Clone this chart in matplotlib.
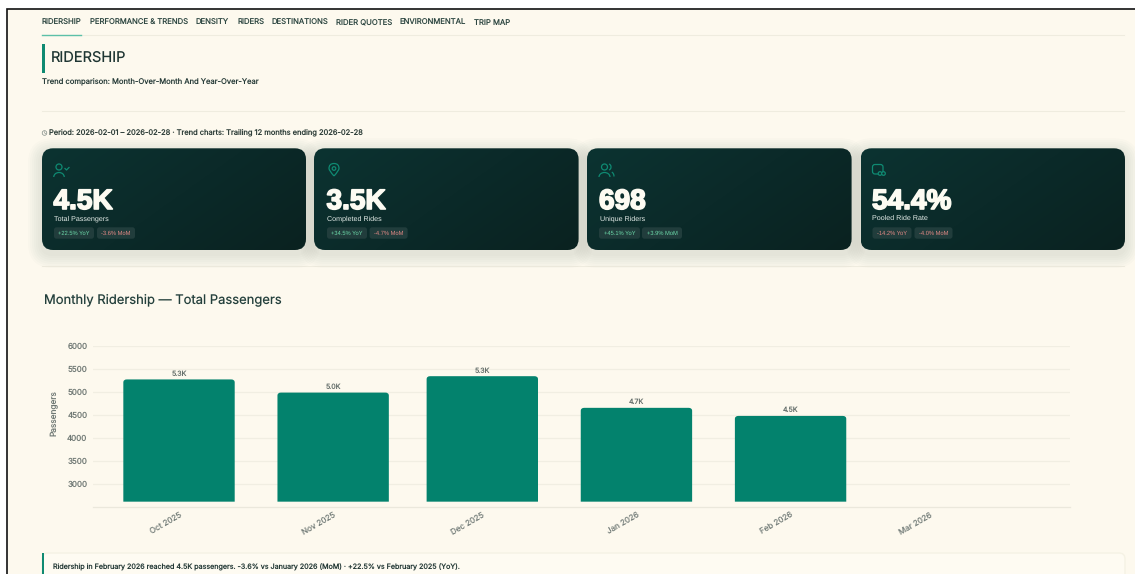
import datetime as dt
import numpy as np
import matplotlib
matplotlib.use("Agg")
import matplotlib.pyplot as plt
import matplotlib.dates as mdates
import matplotlib.patheffects as pe
from matplotlib.patches import FancyBboxPatch, Rectangle, Circle, PathPatch, Arc
from matplotlib.path import Path
from matplotlib.colors import LinearSegmentedColormap

W, H = 1135, 574

nav_items = ["RIDERSHIP", "PERFORMANCE & TRENDS", "DENSITY", "RIDERS", "DESTINATIONS",
             "RIDER QUOTES", "ENVIRONMENTAL", "TRIP MAP"]
nav_x = [42, 89.5, 196, 237, 272, 336, 400, 474]

card_values = ["4.5K", "3.5K", "698", "54.4%"]
card_labels = ["Total Passengers", "Completed Rides", "Unique Riders", "Pooled Ride Rate"]
card_yoy = ["+22.5% YoY", "+34.5% YoY", "+45.1% YoY", "-14.2% YoY"]
card_mom = ["-3.6% MoM", "-4.7% MoM", "+3.9% MoM", "-4.0% MoM"]

bar_months = [dt.date(2025, 10, 1), dt.date(2025, 11, 1), dt.date(2025, 12, 1),
              dt.date(2026, 1, 1), dt.date(2026, 2, 1)]
passengers = [5270, 4985, 5340, 4655, 4480]
tick_months = bar_months + [dt.date(2026, 3, 1)]
tick_labels = ["Oct 2025", "Nov 2025", "Dec 2025", "Jan 2026", "Feb 2026", "Mar 2026"]
y_ticks = [3000, 3500, 4000, 4500, 5000, 5500, 6000]

BG = "#fdf9ee"
TEAL = "#03826d"
ACCENT = "#0f8a72"
INK = "#1f3633"
RULE = "#efecdf"
GREEN = "#6ddcab"
RED = "#e58a86"

plt.rcParams["font.family"] = ["Inter", "DejaVu Sans"]
plt.rcParams["text.hinting"] = "none"


def px(v):
    # pixel size to points at this figure's dpi
    return v * 72 / 100


def draw_card(page, x0, y0, x1, y1, cmap):
    # soft drop shadow from stacked translucent boxes
    for grow in np.arange(14, 0, -2):
        page.add_patch(FancyBboxPatch((x0 - grow, y0 - grow + 4), x1 - x0 + 2 * grow, y1 - y0 + 2 * grow,
                                      boxstyle=f"round,pad=0,rounding_size={11 + grow}",
                                      fc="#30402f", ec="none", alpha=0.014, zorder=2))
    box = FancyBboxPatch((x0, y0), x1 - x0, y1 - y0, boxstyle="round,pad=0,rounding_size=11",
                         fc="none", ec="none", zorder=3)
    page.add_patch(box)
    xx, yy = np.meshgrid(np.linspace(0, 1, 120), np.linspace(0, 1, 50))
    img = page.imshow(xx * 0.65 + yy * 0.35, extent=(x0, x1, y1, y0), cmap=cmap, vmin=0, vmax=1,
                      aspect="auto", zorder=3, interpolation="bilinear")
    img.set_clip_path(box)


def draw_icon(page, kind, x, y):
    # line icons, x and y are the icon's centre
    style = dict(fc="none", ec=ACCENT, lw=0.9, zorder=5)
    if kind == 0:
        page.add_patch(Circle((x - 1.5, y - 2.5), 3, **style))
        page.add_patch(Arc((x - 1.5, y + 7.5), 10.5, 9, theta1=180, theta2=360, **style))
        page.plot([x + 4.5, x + 6, x + 8.5], [y - 1, y + 0.5, y - 2], color=ACCENT, lw=0.9, zorder=5)
    elif kind == 1:
        verts = [(x, y + 6.5), (x - 5, y + 1), (x - 5, y - 1), (x - 5, y - 6), (x, y - 6),
                 (x + 5, y - 6), (x + 5, y - 1), (x + 5, y + 1), (x, y + 6.5)]
        codes = [Path.MOVETO] + [Path.CURVE3] * 8
        page.add_patch(PathPatch(Path(verts, codes), **style))
        page.add_patch(Circle((x, y - 1), 1.8, **style))
    elif kind == 2:
        page.add_patch(Circle((x - 1.5, y - 2.5), 3, **style))
        page.add_patch(Arc((x - 1.5, y + 7.5), 11, 9, theta1=180, theta2=360, **style))
        page.add_patch(Arc((x + 2.5, y - 2.5), 5, 6, theta1=-80, theta2=80, **style))
        page.add_patch(Arc((x + 5, y + 7), 6, 9, theta1=280, theta2=360, **style))
    else:
        page.add_patch(FancyBboxPatch((x - 5.5, y - 5), 10.5, 9.5, boxstyle="round,pad=0,rounding_size=2.5", **style))
        page.add_patch(Circle((x + 2, y + 4), 1.8, fc="#0c2f2d", ec=ACCENT, lw=0.9, zorder=6))
        page.add_patch(Circle((x + 5.5, y + 4), 1.8, fc="#0c2f2d", ec=ACCENT, lw=0.9, zorder=6))


def draw_chip(page, x0, x1, text, color):
    page.add_patch(FancyBboxPatch((x0, 227.3), x1 - x0, 11.4, boxstyle="round,pad=0,rounding_size=2.5",
                                  fc="#213d3c", ec="none", zorder=4))
    page.text((x0 + x1) / 2, 235, text, color=color, fontsize=px(5.8), ha="center", va="baseline",
              family="Liberation Sans", zorder=5)


def draw_page(page):
    page.add_patch(Rectangle((7, 8.5), W, H, fc=BG, ec="#111111", lw=1.2, zorder=0))

    for label, x in zip(nav_items, nav_x):
        page.text(x, 25, label, fontsize=px(7.7), color="#2f4843", va="baseline", zorder=5)
    for y in [35, 111, 266]:
        page.plot([42, 1124], [y, y], color=RULE, lw=0.8, zorder=1)
    page.plot([42, 81], [34.7, 34.7], color="#5cc0a8", lw=1, zorder=2)

    page.add_patch(Rectangle((42, 43.5), 2.8, 29.5, fc=ACCENT, ec="none", zorder=2))
    page.text(51, 61.5, "RIDERSHIP", fontsize=px(14.6), color=INK, va="baseline")
    page.text(42, 83.5, "Trend comparison: Month-Over-Month And Year-Over-Year", fontsize=px(7.6),
              color="#253a37", va="baseline")

    # little clock in front of the period line
    page.add_patch(Circle((44.5, 133), 2.3, fc="none", ec="#7f8a85", lw=0.5))
    page.plot([44.5, 44.5, 45.8], [131.6, 133, 133.6], color="#7f8a85", lw=0.4)
    page.text(49, 135.5, "Period: 2026-02-01 – 2026-02-28 · Trend charts: Trailing 12 months ending 2026-02-28",
              fontsize=px(7.5), color="#2f3f3a", va="baseline")

    cmap = LinearSegmentedColormap.from_list("card", ["#0c3331", "#0b2a29", "#0a2220"])
    card_x = [(42, 306), (314, 578.6), (587, 851.6), (860.6, 1125)]
    chip_x = [((54, 94), (97, 135)), ((327, 367), (369.6, 407.6)),
              ((599, 640), (642, 682)), ((872.5, 911.5), (914.5, 952.5))]
    icon_x = [60.5, 334, 606, 878]
    text_x = [53.5, 326.5, 599, 872]
    for i, (x0, x1) in enumerate(card_x):
        draw_card(page, x0, 148.3, x1, 250, cmap)
        draw_icon(page, i, icon_x[i], 169.5)
        page.text(text_x[i], 209, card_values[i], fontsize=px(28), color="#fdfbf2", fontweight="bold",
                  family="Liberation Sans", va="baseline", zorder=5,
                  path_effects=[pe.withStroke(linewidth=1.2, foreground="#fdfbf2")])
        page.text(text_x[i] + 0.5, 220.3, card_labels[i], fontsize=px(7.2), color="#e4ece8",
                  family="Liberation Sans", va="baseline", zorder=5)
        yoy_color = RED if card_yoy[i].startswith("-") else GREEN
        mom_color = RED if card_mom[i].startswith("-") else GREEN
        draw_chip(page, *chip_x[i][0], card_yoy[i], yoy_color)
        draw_chip(page, *chip_x[i][1], card_mom[i], mom_color)

    page.text(44, 303, "Monthly Ridership — Total Passengers", fontsize=px(13), color="#24403c", va="baseline")

    # note box, runs off the bottom edge
    page.add_patch(FancyBboxPatch((42, 553), 1083, 40, boxstyle="round,pad=0,rounding_size=6",
                                  fc="#fefbf2", ec="#f5f2e4", lw=1, zorder=1))
    page.add_patch(Rectangle((42, 553), 2.2, 30, fc=ACCENT, ec="none", zorder=2))
    page.text(53, 569, "Ridership in February 2026 reached 4.5K passengers. -3.6% vs January 2026 (MoM) · "
              "+22.5% vs February 2025 (YoY).", fontsize=px(7.15), color="#253a37", va="baseline", zorder=3)


def round_tops(ax, bars, rx, ry):
    # swap the square bars for ones with rounded top corners
    for bar in bars:
        x0, y0 = bar.get_x(), bar.get_y()
        x1, y1 = x0 + bar.get_width(), y0 + bar.get_height()
        verts = [(x0, y0), (x0, y1 - ry), (x0, y1), (x0 + rx, y1), (x1 - rx, y1), (x1, y1), (x1, y1 - ry),
                 (x1, y0), (x0, y0)]
        codes = [Path.MOVETO, Path.LINETO, Path.CURVE3, Path.CURVE3, Path.LINETO, Path.CURVE3, Path.CURVE3,
                 Path.LINETO, Path.CLOSEPOLY]
        ax.add_patch(PathPatch(Path(verts, codes), fc=TEAL, ec="none", zorder=3))
        bar.remove()


def draw_chart(ax):
    dates = mdates.date2num(bar_months)
    bars = ax.bar(dates, [p - 2624 for p in passengers], bottom=2624, width=22.4, color=TEAL, zorder=3)
    ax.set_xlim(dates[-1] - 140.3, dates[-1] + 56.2)
    ax.set_ylim(2515, 6000)
    round_tops(ax, bars, 0.7, 65)

    for d, p in zip(dates, passengers):
        ax.annotate(f"{p / 1000:.1f}K", (d, p), xytext=(0, 1.5), textcoords="offset points",
                    ha="center", va="bottom", fontsize=px(7), color="#66706c")

    ax.set_xticks(mdates.date2num(tick_months))
    ax.set_xticklabels(tick_labels, rotation=30, ha="right", rotation_mode="anchor",
                       fontsize=px(8), color="#77807c")
    ax.set_yticks(y_ticks)
    ax.set_yticklabels([str(t) for t in y_ticks], fontsize=px(8), color="#6f7874")
    ax.tick_params(axis="both", length=0)
    ax.tick_params(axis="x", pad=3)
    ax.tick_params(axis="y", pad=4)
    ax.set_ylabel("Passengers", fontsize=px(8.3), color="#6f7874")
    ax.yaxis.set_label_coords(-35 / 977, 0.58)
    ax.grid(axis="y", color="#f1eee2", lw=0.9, zorder=0)
    ax.set_axisbelow(True)
    for name in ["top", "right", "left"]:
        ax.spines[name].set_visible(False)
    ax.spines["bottom"].set_color("#ebe8dc")
    ax.spines["bottom"].set_linewidth(0.9)


def main():
    fig = plt.figure(figsize=(W / 100, H / 100), dpi=100, facecolor="white")

    page = fig.add_axes([0, 0, 1, 1])
    draw_page(page)
    page.set_xlim(0, W)
    page.set_ylim(H, 0)
    page.axis("off")

    ax = fig.add_axes([93 / W, 1 - 506.7 / H, 977 / W, (506.7 - 345.7) / H])
    ax.patch.set_alpha(0)
    draw_chart(ax)

    fig.savefig("out.png", dpi=100, facecolor="white")


if __name__ == "__main__":
    main()
